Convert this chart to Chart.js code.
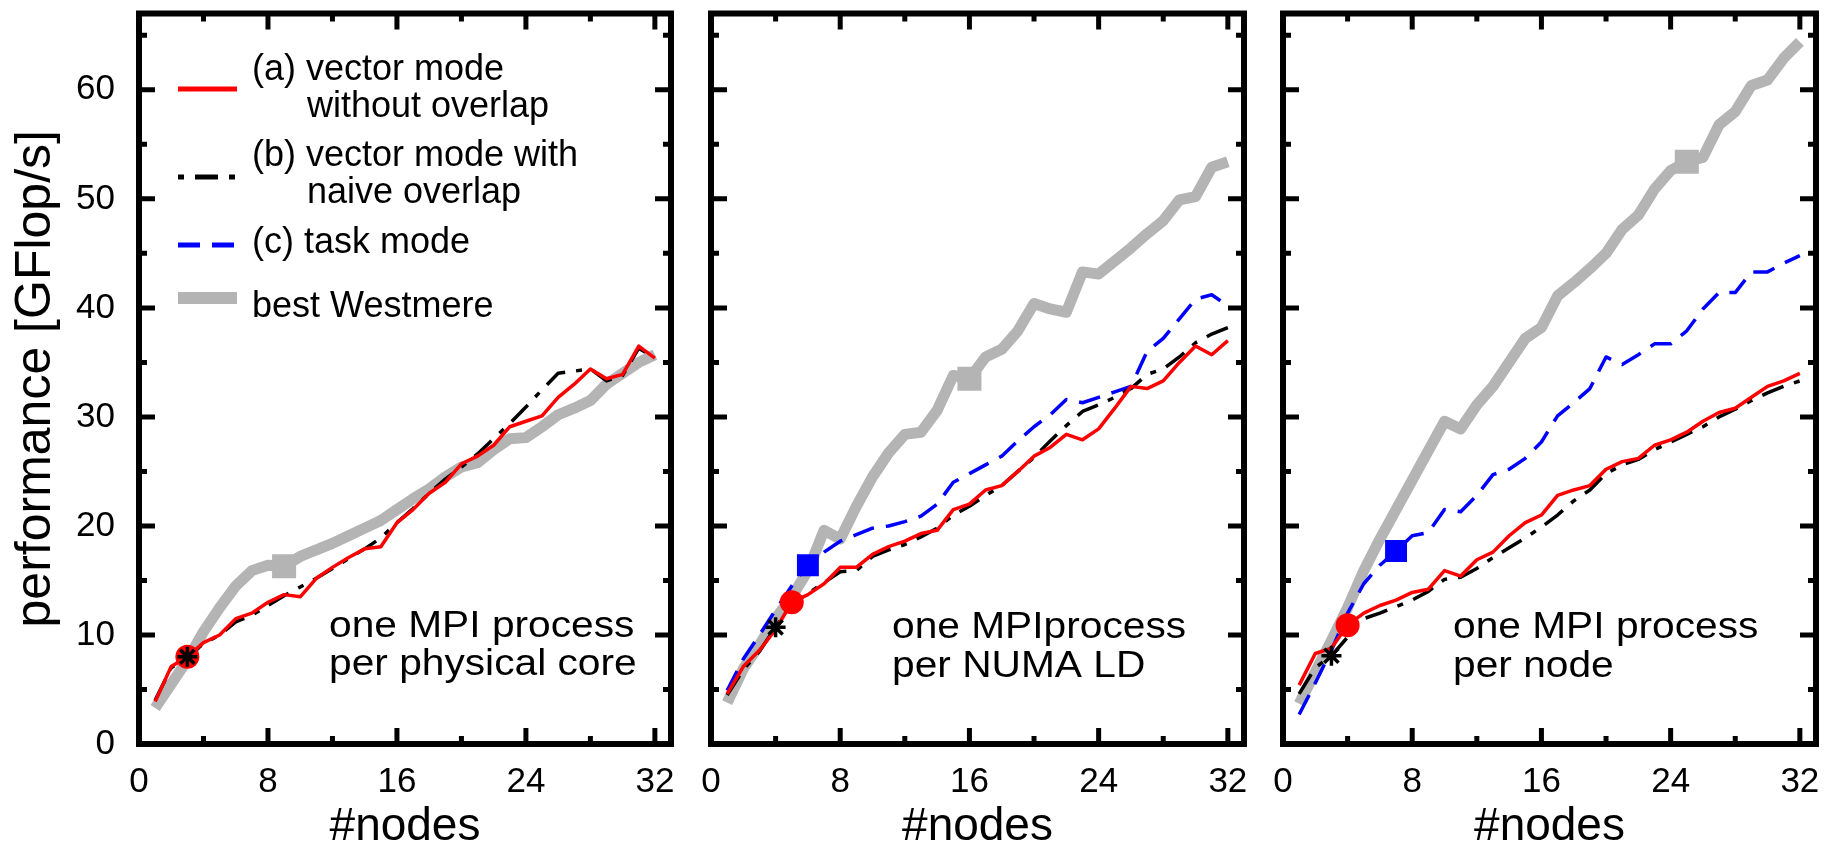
<!DOCTYPE html>
<html>
<head>
<meta charset="utf-8">
<script src="https://cdn.jsdelivr.net/npm/chart.js@4/dist/chart.umd.min.js"></script>
<style>
body { margin: 0; background: #fff; }
#wrap { position: relative; width: 1839px; height: 842px; overflow: hidden; background: #fff; }
.box { position: absolute; top: 0; }
</style>
</head>
<body>
<div id="wrap">
  <div class="box" style="left:0px"><canvas id="p1" width="690" height="842"></canvas></div>
  <div class="box" style="left:690px"><canvas id="p2" width="572" height="842"></canvas></div>
  <div class="box" style="left:1262px"><canvas id="p3" width="577" height="842"></canvas></div>
</div>
<script>
// node counts (x) and tick labels
const nodes = [1, 2, 3, 4, 5, 6, 7, 8, 9, 10, 11, 12, 13, 14, 15, 16,
               17, 18, 19, 20, 21, 22, 23, 24, 25, 26, 27, 28, 29, 30, 31, 32];
const xTicks = [0, 8, 16, 24, 32];
const xMinor = [4, 12, 20, 28];
const yTicks = [0, 10, 20, 30, 40, 50, 60];
const yMinor = [5, 15, 25, 35, 45, 55, 65];

// one MPI process per physical core
const core_a = [3.9, 7.1, 8.0, 9.3, 10.0, 11.5, 12.0, 13.0, 13.7, 13.5, 15.2, 16.2, 17.1, 17.9, 18.1, 20.3,
                21.5, 23.0, 24.0, 25.7, 26.4, 27.4, 29.1, 29.6, 30.1, 31.8, 33.0, 34.4, 33.5, 33.9, 36.5, 35.4];
const core_b = [4.0, 7.0, 8.0, 9.2, 10.0, 11.2, 11.8, 12.7, 13.6, 14.4, 15.2, 16.1, 17.0, 17.9, 18.9, 20.3,
                21.6, 23.0, 24.3, 25.4, 26.6, 28.0, 29.4, 30.9, 32.5, 34.0, 34.2, 34.4, 33.3, 33.8, 36.3, 35.4];
const core_west = [3.3, 5.5, 7.7, 10.3, 12.5, 14.5, 15.9, 16.4, 16.3, 17.2, 17.8, 18.4, 19.1, 19.8, 20.5, 21.5,
                   22.5, 23.4, 24.5, 25.4, 25.8, 27.0, 28.0, 28.1, 29.1, 30.2, 30.8, 31.5, 33.0, 34.0, 35.0, 35.7];
const coreMarks = { a: 3, b: 3, west: 9 };

// one MPI process per NUMA LD
const numa_a = [4.6, 7.1, 8.6, 10.5, 13.0, 13.7, 14.7, 16.2, 16.2, 17.4, 18.1, 18.6, 19.3, 19.6, 21.5, 22.0,
                23.3, 23.7, 25.0, 26.4, 27.2, 28.4, 27.9, 28.9, 30.8, 32.8, 32.6, 33.3, 35.0, 36.5, 35.7, 37.0];
const numa_b = [4.5, 6.8, 8.5, 10.7, 12.8, 13.8, 14.8, 15.8, 15.9, 17.2, 17.8, 18.3, 19.0, 19.8, 21.0, 21.8,
                22.8, 23.7, 25.0, 26.3, 27.8, 29.2, 30.5, 31.1, 31.8, 32.6, 33.9, 34.4, 35.5, 36.8, 37.6, 38.2];
const numa_c = [4.9, 7.8, 10.0, 12.3, 14.5, 16.4, 17.6, 18.6, 19.2, 19.8, 20.0, 20.4, 20.9, 22.0, 24.0, 24.8,
                25.6, 26.4, 27.8, 29.1, 30.2, 31.6, 31.3, 31.8, 32.3, 32.8, 36.0, 37.2, 39.0, 40.8, 41.2, 40.2];
const numa_west = [3.8, 6.9, 9.1, 11.5, 13.5, 15.9, 19.6, 18.8, 21.8, 24.5, 26.7, 28.4, 28.6, 30.6, 33.8, 33.5,
                   35.5, 36.2, 37.9, 40.4, 39.9, 39.6, 43.3, 43.1, 44.3, 45.5, 46.8, 48.0, 49.9, 50.2, 52.9, 53.4];
const numaMarks = { a: 5, b: 4, c: 6, west: 16 };

// one MPI process per node
const node_a = [5.4, 8.3, 8.8, 10.9, 12.0, 12.7, 13.2, 13.9, 14.2, 15.9, 15.4, 16.9, 17.6, 19.1, 20.3, 21.0,
                22.8, 23.3, 23.7, 25.2, 25.9, 26.2, 27.4, 27.9, 28.6, 29.6, 30.4, 30.8, 31.8, 32.8, 33.3, 34.0];
const node_b = [4.6, 7.0, 8.1, 9.8, 11.5, 12.0, 12.6, 13.2, 14.0, 15.1, 15.3, 16.1, 17.1, 18.0, 18.9, 19.9,
                21.0, 22.3, 23.3, 24.8, 25.6, 26.1, 27.0, 27.7, 28.4, 29.1, 30.0, 30.7, 31.5, 32.2, 32.8, 33.3];
const node_c = [2.7, 5.6, 8.6, 12.0, 14.7, 16.4, 17.7, 19.1, 19.4, 21.5, 21.3, 22.8, 24.7, 25.2, 26.2, 27.7,
                30.1, 31.3, 32.6, 35.5, 34.8, 35.7, 36.7, 36.7, 37.9, 39.9, 41.4, 41.4, 43.3, 43.3, 44.1, 44.8];
const node_west = [3.7, 6.6, 9.5, 12.5, 15.9, 18.8, 21.5, 24.2, 26.9, 29.6, 28.9, 31.1, 32.8, 35.0, 37.2, 38.2,
                   41.1, 42.3, 43.6, 45.0, 47.2, 48.5, 50.9, 52.6, 53.4, 53.8, 56.8, 58.0, 60.4, 60.9, 62.9, 64.4];
const nodeMarks = { a: 4, b: 3, c: 7, west: 25 };

const FONT = "'Liberation Sans', Arial, Helvetica, sans-serif";
Chart.defaults.font.family = FONT;
Chart.defaults.color = '#000';

const RED = { color: '#ff0000', width: 3.5, order: 2, point: 'circle', size: 12 };
const BLACK = { color: '#000000', width: 3.5, dash: [23, 11, 6, 11], order: 3 };
const BLUE = { color: '#0000ff', width: 3.5, dash: [22, 12], order: 4, point: 'rect', size: 15.5 };
const GRAY = { color: '#b4b4b4', width: 11, order: 5, point: 'rect', size: 17 };

function lineSet(vals, st, mark) {
  return {
    data: nodes.map((n, i) => ({ x: n, y: vals[i] })),
    borderColor: st.color,
    borderWidth: st.width,
    borderDash: st.dash || [],
    borderCapStyle: 'butt',
    borderJoinStyle: 'round',
    tension: 0,
    fill: false,
    order: st.order,
    pointStyle: st.point || 'circle',
    pointRadius: c => (mark && c.raw && c.raw.x === mark) ? st.size : 0,
    pointHoverRadius: 0,
    pointBackgroundColor: st.color,
    pointBorderColor: st.color,
    pointBorderWidth: 0
  };
}

// black asterisk on the (b) curve
function starSet(vals, mark) {
  return {
    data: [{ x: mark, y: vals[nodes.indexOf(mark)] }],
    showLine: false,
    order: 0,
    pointStyle: 'star',
    pointRadius: 10,
    pointHoverRadius: 0,
    pointBorderColor: '#000',
    pointBackgroundColor: '#000',
    pointBorderWidth: 3.5
  };
}

// frame and inward ticks on all four sides
const framePlugin = {
  id: 'frame',
  afterDatasetsDraw(chart) {
    const { ctx, chartArea: a, scales: { x, y } } = chart;
    ctx.save();
    ctx.strokeStyle = '#000';
    ctx.lineWidth = 5;
    ctx.lineCap = 'butt';
    ctx.beginPath();
    const xt = (v, len) => {
      const px = x.getPixelForValue(v);
      ctx.moveTo(px, a.bottom); ctx.lineTo(px, a.bottom - len);
      ctx.moveTo(px, a.top); ctx.lineTo(px, a.top + len);
    };
    const yt = (v, len) => {
      const py = y.getPixelForValue(v);
      ctx.moveTo(a.left, py); ctx.lineTo(a.left + len, py);
      ctx.moveTo(a.right, py); ctx.lineTo(a.right - len, py);
    };
    xTicks.forEach(v => xt(v, 16));
    xMinor.forEach(v => xt(v, 8));
    yTicks.forEach(v => yt(v, 16));
    yMinor.forEach(v => yt(v, 8));
    ctx.stroke();
    ctx.lineWidth = 6;
    ctx.lineJoin = 'miter';
    ctx.strokeRect(a.left, a.top, a.right - a.left, a.bottom - a.top);
    ctx.restore();
  }
};

// two-line note inside each panel
const notesPlugin = {
  id: 'notes',
  afterDraw(chart, args, opts) {
    if (!opts.lines) return;
    const ctx = chart.ctx;
    ctx.save();
    ctx.font = '37px ' + FONT;
    ctx.fillStyle = '#000';
    ctx.textBaseline = 'alphabetic';
    opts.lines.forEach((t, i) => {
      ctx.save();
      ctx.translate(chart.chartArea.left + opts.dx, opts.y + i * opts.gap);
      ctx.scale(1.1, 1);
      ctx.fillText(t, 0, 0);
      ctx.restore();
    });
    ctx.restore();
  }
};

// key drawn in the first panel
const keyPlugin = {
  id: 'key',
  afterDraw(chart) {
    const ctx = chart.ctx;
    ctx.save();
    const sample = (st, y, w) => {
      ctx.beginPath();
      ctx.strokeStyle = st.color;
      ctx.lineWidth = w;
      ctx.lineCap = 'butt';
      ctx.setLineDash(st.dash ? [6, 11, 23, 11].length && st === BLACK ? [6, 11, 23, 11] : st.dash : []);
      ctx.moveTo(178, y);
      ctx.lineTo(237, y);
      ctx.stroke();
    };
    sample(RED, 89, 5);
    sample(BLACK, 177, 5);
    sample(BLUE, 245, 5);
    sample(GRAY, 298, 12);
    ctx.setLineDash([]);
    ctx.font = '36px ' + FONT;
    ctx.fillStyle = '#000';
    ctx.textBaseline = 'alphabetic';
    ctx.fillText('(a) vector mode', 252, 80);
    ctx.fillText('without overlap', 307, 117);
    ctx.fillText('(b) vector mode with', 252, 166);
    ctx.fillText('naive overlap', 307, 203);
    ctx.fillText('(c) task mode', 252, 253);
    ctx.fillText('best Westmere', 252, 317);
    ctx.restore();
  }
};

function makePanel(id, datasets, cfg) {
  const plugins = [framePlugin, notesPlugin];
  if (cfg.key) plugins.push(keyPlugin);
  return new Chart(document.getElementById(id), {
    type: 'line',
    data: { datasets: datasets },
    options: {
      responsive: false,
      animation: false,
      devicePixelRatio: 1,
      events: [],
      layout: { padding: { top: 10, right: cfg.padRight, left: 0, bottom: 0 } },
      plugins: {
        legend: { display: false },
        tooltip: { enabled: false },
        notes: cfg.notes
      },
      scales: {
        x: {
          type: 'linear',
          min: 0,
          max: 33,
          afterBuildTicks: s => { s.ticks = xTicks.map(v => ({ value: v })); },
          afterFit: s => { s.height = 98; s.paddingLeft = 0; s.paddingRight = 0; },
          grid: { display: false },
          border: { display: false },
          ticks: { font: { size: 35 }, color: '#000', padding: 9, maxRotation: 0, autoSkip: false },
          title: { display: true, text: '#nodes', color: '#000', font: { size: 46, lineHeight: 0.66 }, padding: 0 }
        },
        y: {
          type: 'linear',
          min: 0,
          max: 67,
          afterBuildTicks: s => { s.ticks = yTicks.map(v => ({ value: v })); },
          afterFit: s => { s.width = cfg.yWidth; s.paddingTop = 0; s.paddingBottom = 0; },
          grid: { display: false },
          border: { display: false },
          ticks: { display: cfg.yLabels, font: { size: 35 }, color: '#000', padding: 16 },
          title: { display: cfg.yLabels, text: 'performance [GFlop/s]', color: '#000',
                   font: { size: 50, lineHeight: 1.2 }, padding: { top: 6, bottom: 0 } }
        }
      }
    },
    plugins: plugins
  });
}

makePanel('p1', [
  lineSet(core_west, GRAY, coreMarks.west),
  lineSet(core_b, BLACK, null),
  lineSet(core_a, RED, coreMarks.a),
  starSet(core_b, coreMarks.b)
], { yWidth: 139, padRight: 19, yLabels: true, key: true,
     notes: { lines: ['one MPI process', 'per physical core'], dx: 190, y: 637, gap: 38 } });

makePanel('p2', [
  lineSet(numa_west, GRAY, numaMarks.west),
  lineSet(numa_c, BLUE, numaMarks.c),
  lineSet(numa_b, BLACK, null),
  lineSet(numa_a, RED, numaMarks.a),
  starSet(numa_b, numaMarks.b)
], { yWidth: 21, padRight: 18, yLabels: false,
     notes: { lines: ['one MPIprocess', 'per NUMA LD'], dx: 181, y: 638, gap: 39 } });

makePanel('p3', [
  lineSet(node_west, GRAY, nodeMarks.west),
  lineSet(node_c, BLUE, nodeMarks.c),
  lineSet(node_b, BLACK, null),
  lineSet(node_a, RED, nodeMarks.a),
  starSet(node_b, nodeMarks.b)
], { yWidth: 21, padRight: 23, yLabels: false,
     notes: { lines: ['one MPI process', 'per node'], dx: 170, y: 638, gap: 39 } });
</script>
</body>
</html>
